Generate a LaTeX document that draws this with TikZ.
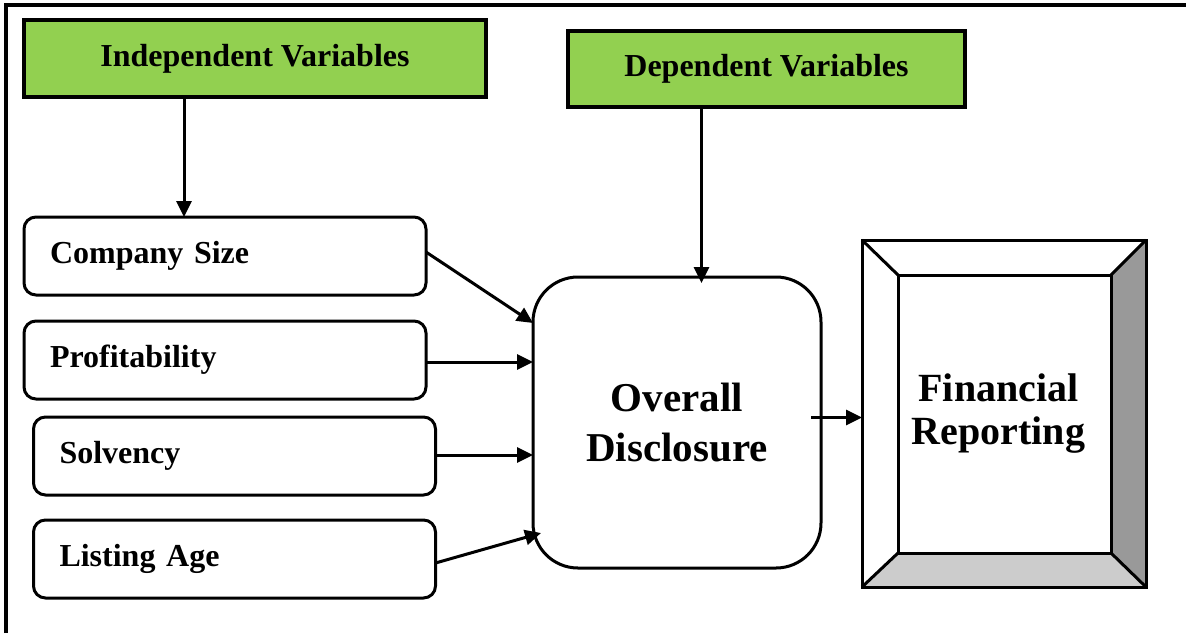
\documentclass[tikz,border=0pt]{standalone}
\usepackage{fontspec}
\setmainfont{Liberation Serif}
\usetikzlibrary{arrows.meta,calc}
\definecolor{hdrgreen}{HTML}{92D050}
\definecolor{bevdark}{HTML}{999999}
\definecolor{bevlight}{HTML}{CCCCCC}
\begin{document}
\begin{tikzpicture}[x=1pt,y=-1pt,
  hdr/.style={draw, line width=3.5pt, fill=hdrgreen, inner sep=0pt, outer sep=0pt,
    font=\fontsize{32}{36}\selectfont\bfseries},
  varbox/.style={draw, line width=3pt, rounded corners=12pt, minimum height=78pt,
    text width=350pt, inner xsep=26pt, inner ysep=0pt, outer sep=0pt, align=left,
    font=\fontsize{32}{36}\selectfont\bfseries},
  bigbox/.style={draw, line width=3pt, rounded corners=45pt, minimum width=288pt,
    minimum height=291pt, outer sep=0pt, align=center,
    font=\fontsize{41}{50}\selectfont\bfseries},
  framebox/.style={draw, line width=3pt, outer sep=0pt, inner sep=0pt},
  arr/.style={line width=3pt, -{Triangle[length=16pt,width=15pt]}}
]
\useasboundingbox (0,0) rectangle (1186,633);
% page border
\draw[line width=4pt] (6,633) -- (6,5) -- (1186,5);

% headers
\node[hdr, minimum width=462pt, minimum height=77pt] (indep) at (255,58.5)
  {\raisebox{4pt}{Independent Variables}};
\node[hdr, minimum width=397pt, minimum height=76pt] (dep) at (766.5,69)
  {\raisebox{2pt}{Dependent Variables}};

% variable boxes
\node[varbox] (cs) at (225,256) {Company Size};
\node[varbox] (pr) at (225,360) {Profitability};
\node[varbox] (so) at (234.5,456) {Solvency};
\node[varbox] (la) at (234.5,559) {Listing Age};

% overall disclosure
\node[bigbox] (od) at (677,422.5) {Overall\\Disclosure};

% financial reporting bevel frame
\fill[bevdark] (1146,240) -- (1146,587) -- (1111,553) -- (1111,275) -- cycle;
\fill[bevlight] (862,587) -- (1146,587) -- (1111,553) -- (898,553) -- cycle;
\node[framebox, minimum width=284pt, minimum height=347pt] (frout) at (1004,413.5) {};
\node[framebox, minimum width=213pt, minimum height=278pt, align=center,
  font=\fontsize{40}{43}\selectfont\bfseries] (fr) at (1004.5,414)
  {\hspace*{-12pt}Financial\\\hspace*{-12pt}Reporting};
\draw[line width=3pt] (frout.north west) -- (fr.north west);
\draw[line width=3pt] (frout.north east) -- (fr.north east);
\draw[line width=3pt] (frout.south west) -- (fr.south west);
\draw[line width=3pt] (frout.south east) -- (fr.south east);

% connectors
\coordinate (indepout) at ($(indep.south)+(-71,0)$);
\draw[arr] (indepout) -- (indepout |- cs.north);
\coordinate (depout) at ($(dep.south)+(-65,0)$);
\draw[arr] (depout) -- ($(depout |- od.north)+(0,6)$);

\draw[arr] ($(cs.east)+(0,-4)$) -- ($(od.west)+(0,-99.5)$);
\draw[arr] ($(pr.east)+(0,2)$) -- ($(od.west)+(0,-60.5)$);
\draw[arr] ($(so.east)+(0,-1)$) -- ($(od.west)+(0,32.5)$);
\draw[arr] ($(la.east)+(0,4)$) -- ($(od.south west)+(8,-35)$);

\coordinate (odout) at ($(od.east)+(-10,-5)$);
\draw[arr] (odout) -- (odout -| frout.west);
\end{tikzpicture}
\end{document}
